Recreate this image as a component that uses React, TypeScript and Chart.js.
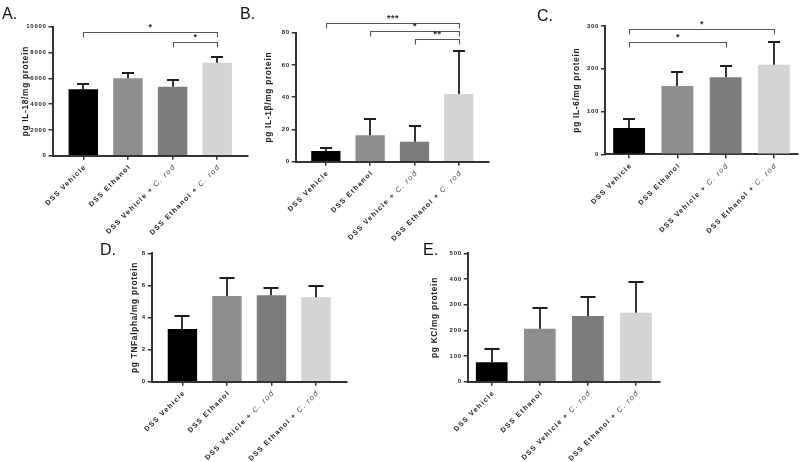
import React, { useEffect, useRef } from 'react';
import { Chart, registerables } from 'chart.js';

Chart.register(...registerables);

const FONT = '"Liberation Sans", Arial, Helvetica, sans-serif';

const categories = ['DSS Vehicle', 'DSS Ethanol', 'DSS Vehicle + C. rod', 'DSS Ethanol + C. rod'];
const barColors = ['#000000', '#8e8e8e', '#7c7c7c', '#d4d4d4'];

const il18Mean = [5150, 6000, 5350, 7200];
const il18Sd = [410, 400, 500, 430];
const il1bMean = [6.6, 16.4, 12.4, 42];
const il1bSd = [2.1, 10.3, 9.9, 26.8];
const il6Mean = [61.5, 159.7, 180, 209.5];
const il6Sd = [20.3, 32, 27, 52.5];
const tnfMean = [3.28, 5.34, 5.38, 5.26];
const tnfSd = [0.81, 1.14, 0.48, 0.68];
const kcMean = [75.5, 206.4, 255.8, 268.7];
const kcSd = [51.8, 80.6, 75.2, 118.3];

// significance brackets: [fromIndex, toIndex, level (data units), label]
const il18Sig: [number, number, number, string][] = [[0, 3, 9566, '*'], [2, 3, 8840, '*']];
const il1bSig: [number, number, number, string][] = [[0, 3, 86.2, '***'], [1, 3, 81.2, '*'], [2, 3, 75.9, '**']];
const il6Sig: [number, number, number, string][] = [[0, 3, 292.3, '*'], [0, 2, 263.3, '*']];

type PanelCfg = {
  id: string;
  letter: string;
  letterX: number;
  letterY: number;
  title: string;
  mean: number[];
  sd: number[];
  sig: [number, number, number, string][];
  yMax: number;
  yStep: number;
  gap: number;
  pad: { left: number; top: number; right: number; bottom: number };
  yW: number;
  cap: number;
};

const panels: PanelCfg[] = [
  { id: 'A', letter: 'A.', letterX: 2, letterY: 19, title: 'pg IL-18/mg protein', mean: il18Mean, sd: il18Sd, sig: il18Sig, yMax: 10000, yStep: 2000, gap: 0.69, pad: { left: 21.2, top: 26.7, right: 552, bottom: 296.3 }, yW: 31.3, cap: 12 },
  { id: 'B', letter: 'B.', letterX: 240, letterY: 19, title: 'pg IL-1β/mg protein', mean: il1bMean, sd: il1bSd, sig: il1bSig, yMax: 80, yStep: 20, gap: 0.68, pad: { left: 264.2, top: 32.7, right: 311, bottom: 290.3 }, yW: 31.5, cap: 12 },
  { id: 'C', letter: 'C.', letterX: 537, letterY: 21, title: 'pg IL-6/mg protein', mean: il6Mean, sd: il6Sd, sig: il6Sig, yMax: 300, yStep: 100, gap: 0.5, pad: { left: 572.2, top: 26, right: 2, bottom: 297.7 }, yW: 32.8, cap: 12 },
  { id: 'D', letter: 'D.', letterX: 100, letterY: 255, title: 'pg TNFalpha/mg protein', mean: tnfMean, sd: tnfSd, sig: [], yMax: 8, yStep: 2, gap: 0.69, pad: { left: 130.2, top: 253.3, right: 453.3, bottom: 70.3 }, yW: 21.5, cap: 15 },
  { id: 'E', letter: 'E.', letterX: 423, letterY: 255, title: 'pg KC/mg protein', mean: kcMean, sd: kcSd, sig: [], yMax: 500, yStep: 100, gap: 0.5, pad: { left: 430.2, top: 253.3, right: 140, bottom: 70.3 }, yW: 37.5, cap: 15 },
];

function makePlugin(p: PanelCfg) {
  return {
    id: 'decor' + p.id,
    beforeDraw(chart: any) {
      (chart.ctx as any).letterSpacing = '0.7px';
    },
    afterDatasetsDraw(chart: any) {
      const ctx = chart.ctx;
      const yS = chart.scales.y;
      const meta = chart.getDatasetMeta(0);
      ctx.save();
      ctx.strokeStyle = '#1e1e1e';
      ctx.lineWidth = 1.8;
      meta.data.forEach((el: any, i: number) => {
        const x = Math.round(el.x);
        const yTop = el.y;
        const yErr = Math.round(yS.getPixelForValue(p.mean[i] + p.sd[i]));
        ctx.beginPath();
        ctx.moveTo(x, yTop);
        ctx.lineTo(x, yErr);
        ctx.moveTo(x - p.cap / 2, yErr);
        ctx.lineTo(x + p.cap / 2, yErr);
        ctx.stroke();
      });
      ctx.restore();
    },
    afterDraw(chart: any) {
      const ctx = chart.ctx;
      const xS = chart.scales.x;
      const yS = chart.scales.y;
      const area = chart.chartArea;
      // brackets
      ctx.save();
      (ctx as any).letterSpacing = '0.5px';
      p.sig.forEach(([a, b, v, label]) => {
        const x1 = Math.round(xS.getPixelForValue(a)) + 0.5;
        const x2 = Math.round(xS.getPixelForValue(b)) + 0.5;
        const y = Math.round(yS.getPixelForValue(v)) + 0.5;
        ctx.strokeStyle = '#555';
        ctx.lineWidth = 1.1;
        ctx.beginPath();
        ctx.moveTo(x1, y + 5);
        ctx.lineTo(x1, y);
        ctx.lineTo(x2, y);
        ctx.lineTo(x2, y + 5);
        ctx.stroke();
        ctx.fillStyle = '#222';
        ctx.font = `bold 9px ${FONT}`;
        ctx.textAlign = 'center';
        ctx.textBaseline = 'alphabetic';
        ctx.fillText(label, (x1 + x2) / 2, y - 3);
      });
      ctx.restore();
      // x labels
      ctx.save();
      (ctx as any).letterSpacing = '1.3px';
      categories.forEach((label, i) => {
        const x = xS.getPixelForValue(i);
        const idx = label.indexOf('C. rod');
        const main = idx >= 0 ? label.slice(0, idx) : label;
        const ital = idx >= 0 ? label.slice(idx) : '';
        ctx.save();
        ctx.translate(x + 2, area.bottom + 10);
        ctx.rotate(-Math.PI / 4);
        ctx.textBaseline = 'middle';
        ctx.textAlign = 'left';
        const fMain = `bold 7px ${FONT}`;
        const fItal = `italic 7.5px ${FONT}`;
        ctx.font = fItal;
        const wI = ital ? ctx.measureText(ital).width : 0;
        ctx.font = fMain;
        const wM = ctx.measureText(main).width;
        const start = -(wM + wI);
        ctx.fillStyle = '#222';
        ctx.fillText(main, start, 0);
        if (ital) {
          ctx.font = fItal;
          ctx.fillStyle = '#444';
          ctx.fillText(ital, start + wM, 0);
        }
        ctx.restore();
      });
      ctx.restore();
      // panel letter
      ctx.save();
      (ctx as any).letterSpacing = '0px';
      ctx.font = `16px ${FONT}`;
      ctx.fillStyle = '#111';
      ctx.textAlign = 'left';
      ctx.textBaseline = 'alphabetic';
      ctx.fillText(p.letter, p.letterX, p.letterY);
      ctx.restore();
    },
  };
}

function Panel({ cfg }: { cfg: PanelCfg }) {
  const ref = useRef<HTMLCanvasElement | null>(null);
  useEffect(() => {
    if (!ref.current) return;
    const gridOpts = { drawOnChartArea: false, drawTicks: true, tickLength: 4, color: '#333', lineWidth: 1.5, offset: false };
    const borderOpts = { display: true, color: '#333', width: 2 };
    const chart = new Chart(ref.current, {
      type: 'bar',
      data: {
        datasets: [
          {
            data: cfg.mean.map((v, i) => ({ x: i, y: v })),
            backgroundColor: barColors,
            borderWidth: 0,
            barPercentage: 0.66,
            categoryPercentage: 1,
          } as any,
        ],
      },
      options: {
        animation: false,
        responsive: false,
        events: [],
        layout: { padding: cfg.pad },
        plugins: { legend: { display: false }, tooltip: { enabled: false }, title: { display: false } },
        scales: {
          x: {
            type: 'linear',
            position: 'bottom',
            offset: false,
            min: -cfg.gap,
            max: 3 + cfg.gap,
            afterBuildTicks: (s: any) => {
              s.ticks = categories.map((_, i) => ({ value: i }));
            },
            afterFit: (s: any) => {
              s.height = 10;
            },
            ticks: { display: false },
            grid: gridOpts,
            border: borderOpts,
          } as any,
          y: {
            type: 'linear',
            position: 'left',
            min: 0,
            max: cfg.yMax,
            afterFit: (s: any) => {
              s.width = cfg.yW;
            },
            ticks: {
              stepSize: cfg.yStep,
              padding: 2,
              color: '#222',
              font: { family: FONT, size: 6, weight: 'bold' },
              callback: (v: any) => `${v}`,
            },
            grid: gridOpts,
            border: borderOpts,
            title: {
              display: true,
              text: cfg.title,
              padding: 0,
              color: '#222',
              font: { family: FONT, size: 8.3, weight: 'bold' },
            },
          } as any,
        },
      },
      plugins: [makePlugin(cfg)],
    });
    return () => chart.destroy();
  }, [cfg]);
  return <canvas ref={ref} width={800} height={462} style={{ position: 'absolute', left: 0, top: 0, width: 800, height: 462 }} />;
}

export default function App() {
  return (
    <div style={{ position: 'absolute', left: 0, top: 0, width: 800, height: 462, background: '#ffffff', overflow: 'hidden' }}>
      {panels.map((p) => (
        <Panel key={p.id} cfg={p} />
      ))}
    </div>
  );
}
